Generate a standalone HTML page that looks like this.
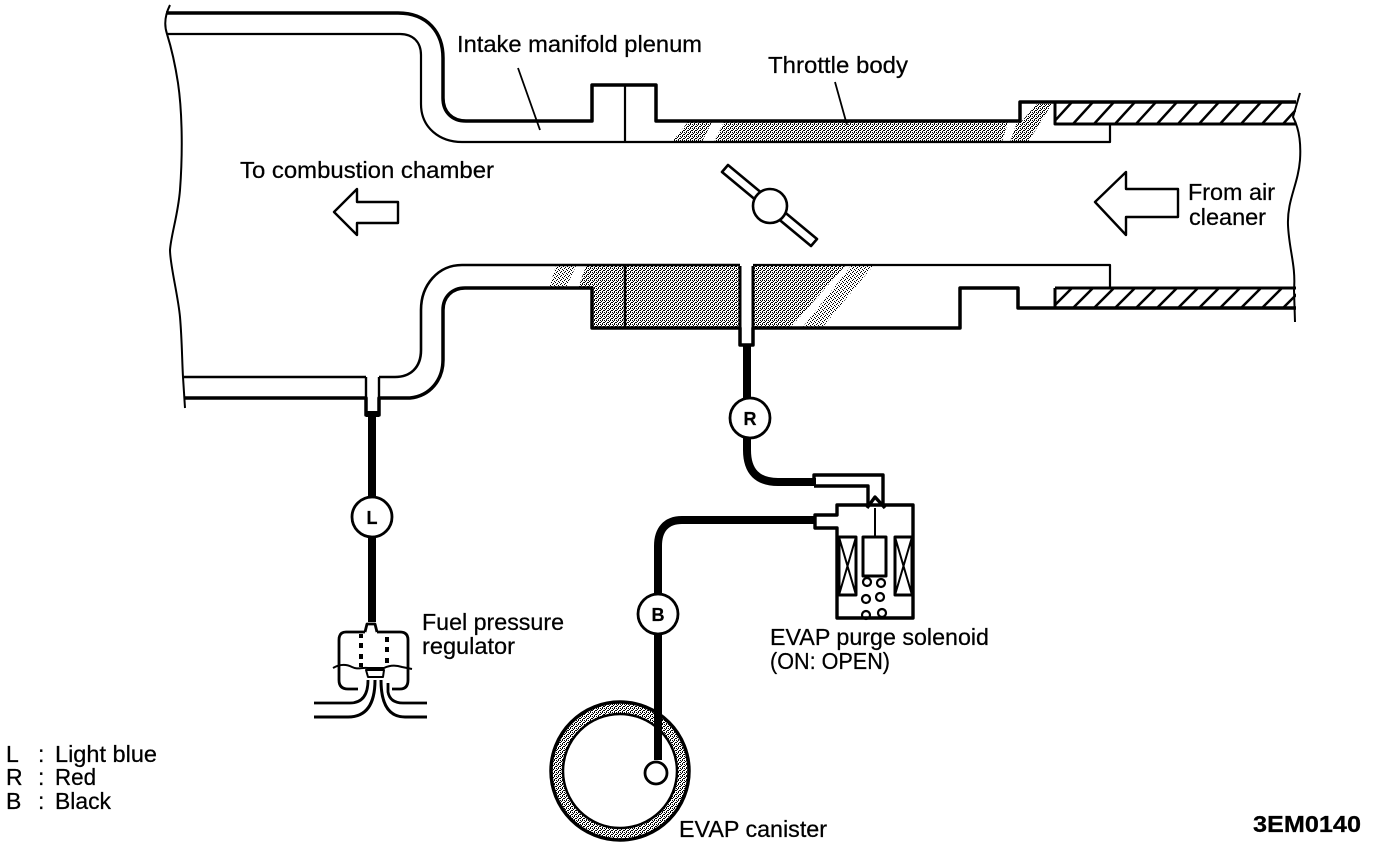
<!DOCTYPE html>
<html>
<head>
<meta charset="utf-8">
<style>
html,body{margin:0;padding:0;background:#fff;}
svg{display:block;}
text{font-family:"Liberation Sans",sans-serif;font-size:23px;fill:#000;stroke:#000;stroke-width:0.25px;}
</style>
</head>
<body>
<svg width="1376" height="846" viewBox="0 0 1376 846" xmlns="http://www.w3.org/2000/svg">
<defs>
<pattern id="st" width="4" height="4" patternUnits="userSpaceOnUse">
<rect width="4" height="4" fill="#fff"/>
<rect x="0" y="0" width="1" height="1" fill="#000"/><rect x="2" y="0" width="1" height="1" fill="#000"/>
<rect x="1" y="1" width="1" height="1" fill="#000"/>
<rect x="0" y="2" width="1" height="1" fill="#000"/><rect x="3" y="2" width="1" height="1" fill="#000"/>
<rect x="2" y="3" width="1" height="1" fill="#000"/>
</pattern>
<pattern id="st2" width="4" height="4" patternUnits="userSpaceOnUse">
<rect width="4" height="4" fill="#fff"/>
<rect x="0" y="0" width="1" height="1" fill="#000"/><rect x="2" y="1" width="1" height="1" fill="#000"/>
<rect x="3" y="2" width="1" height="1" fill="#000"/><rect x="1" y="3" width="1" height="1" fill="#000"/>
</pattern>
<clipPath id="h1"><rect x="1055" y="102" width="241" height="22"/></clipPath>
<clipPath id="h2"><rect x="1055" y="288" width="241" height="20"/></clipPath>
</defs>

<!-- stipple -->
<g stroke="none">
<polygon fill="url(#st)" points="672,142 702,142 712,122 688,122"/>
<polygon fill="url(#st)" points="714,142 1002,142 1008,122 724,122"/>
<polygon fill="url(#st)" points="1010,142 1028,142 1052,104 1037,104 1021,122 1017,122"/>
<polygon fill="url(#st2)" points="549,288 566,288 576,266 556,266"/>
<polygon fill="url(#st)" points="578,288 592,288 592,328 740,328 740,266 586,266"/>
<polygon fill="url(#st)" points="754,266 845,266 790,328 754,328"/>
<polygon fill="url(#st2)" points="851,266 873,266 822,328 802,328"/>
<circle cx="620" cy="771" r="62.5" fill="none" stroke="url(#st)" stroke-width="12"/>
</g>

<!-- hatches -->
<g stroke="#000" stroke-width="2.5" clip-path="url(#h1)">
<path d="M1052,124L1072,102M1073,124L1093,102M1094,124L1114,102M1115,124L1135,102M1136,124L1156,102M1157,124L1177,102M1178,124L1198,102M1199,124L1219,102M1220,124L1240,102M1241,124L1261,102M1262,124L1282,102M1283,124L1303,102"/>
</g>
<g stroke="#000" stroke-width="2.5" clip-path="url(#h2)">
<path d="M1052,308L1072,288M1073,308L1093,288M1094,308L1114,288M1115,308L1135,288M1136,308L1156,288M1157,308L1177,288M1178,308L1198,288M1199,308L1219,288M1220,308L1240,288M1241,308L1261,288M1262,308L1282,288M1283,308L1303,288"/>
</g>

<g fill="none" stroke="#000" stroke-linejoin="round" stroke-linecap="butt">
<!-- top wall -->
<path stroke-width="3.5" d="M166,13 L398,13 C428,13 443,33 443,58 L443,98 C443,112 452,121 466,121 L592,121 L592,85 L656,85 L656,121 L1020,121 L1020,102 L1296,102"/>
<path stroke-width="2.2" d="M167,34 L400,34 C413,34 421,42 421,55 L421,104 C421,128 440,142 462,142 L1110,142 L1110,124"/>
<path stroke-width="2.2" d="M625,85 L625,142"/>
<path stroke-width="3" d="M1055,102 L1055,124 L1296,124"/>

<!-- lower wall -->
<path stroke-width="2.6" d="M740,265 L462,265 C438,265 421,285 421,310 L421,350 C421,368 410,377 395,377 L379,377 M366,377 L184,377"/>
<path stroke-width="2.2" d="M753,265 L1110,265 L1110,288"/>
<path stroke-width="3.5" d="M184,398 L366,398 L366,415 L379,415 L379,398 L410,398 C430,396 443,380 443,360 L443,310 C443,297 452,288 465,288 L592,288 L592,328 L740,328 L740,345 L753,345 L753,328 L960,328 L960,288 L1018,288 L1018,308 L1296,308"/>
<path stroke-width="2.4" d="M366,377 L366,398 M379,377 L379,398"/>
<path stroke-width="3" d="M740,266 L740,328 M753,266 L753,328"/>
<path stroke-width="2.5" d="M625,266 L625,328"/>
<path stroke-width="3" d="M1055,288 L1055,308 M1055,288 L1296,288"/>

<!-- break lines -->
<path stroke-width="2" d="M170,5 C165,15 164,25 167,34 C172,50 176,70 178,83 C182,110 183,150 180,190 C178,215 171,235 170,250 C170,265 178,295 180,317 C182,340 182,360 183,377 L185,408"/>
<path stroke-width="2" d="M1300,93 L1293,117 C1300,130 1301,145 1300,160 C1298,185 1287,200 1288,225 C1289,250 1296,265 1294,290 L1295,322"/>

<!-- leaders -->
<path stroke-width="1.8" d="M518,68 L540,130"/>
<path stroke-width="1.8" d="M835,82 L847,125"/>

<!-- arrows -->
<path stroke-width="2.4" d="M334,212 L357,189 L357,202 L398,202 L398,223 L357,223 L357,235 Z"/>
<path stroke-width="2.4" d="M1095,202 L1126,172 L1126,189 L1178,189 L1178,217 L1126,217 L1126,235 Z"/>

<!-- throttle plate -->
<path stroke-width="2.6" fill="#fff" d="M722,172 L728,165 L817,239 L811,246 Z"/>
<circle cx="770" cy="206" r="17" stroke-width="2.6" fill="#fff"/>

<!-- canister -->
<circle cx="620" cy="771" r="69" stroke-width="3.5"/>
<circle cx="620" cy="771" r="57" stroke-width="2.5"/>

<!-- hoses -->
<path stroke-width="8" d="M372,415 L372,622"/>
<path stroke-width="8" d="M747,345 L747,450 C747,472 758,482 778,482 L816,482"/>
<path stroke-width="8" d="M816,520 L682,520 C666,520 658,530 658,546 L658,760"/>
</g>
<rect x="366" y="411" width="13" height="6" fill="#000"/>

<!-- tag circles -->
<g fill="#fff" stroke="#000" stroke-width="2.8">
<circle cx="372" cy="517" r="20"/>
<circle cx="750" cy="418" r="20"/>
<circle cx="658" cy="614" r="20"/>
<circle cx="656" cy="773" r="11"/>
</g>
<g text-anchor="middle" font-weight="bold">
<text x="372" y="524" style="font-size:18px">L</text>
<text x="750" y="425" style="font-size:18px">R</text>
<text x="658" y="621" style="font-size:18px">B</text>
</g>

<!-- solenoid -->
<g fill="none" stroke="#000" stroke-width="3.4" stroke-linejoin="round">
<path d="M814,486 L814,475 L883,475 L883,505 M814,486 L868,486 L868,505"/>
<path d="M867,508 L875,497 L885,508"/>
<path d="M815,515 L837,515 L837,505 L913,505 L913,618 L837,618 L837,528 L815,528 Z"/>
<path d="M875,508 L875,537" stroke-width="2"/>
<rect x="863" y="537" width="23" height="39" stroke-width="3"/>
<rect x="839" y="537" width="17" height="58" stroke-width="3"/>
<rect x="895" y="537" width="17" height="58" stroke-width="3"/>
<path d="M839,537 L856,595 M856,537 L839,595 M895,537 L912,595 M912,537 L895,595" stroke-width="2"/>
<circle cx="867" cy="582" r="4" stroke-width="2.2"/>
<circle cx="881" cy="583" r="4" stroke-width="2.2"/>
<circle cx="866" cy="599" r="4" stroke-width="2.2"/>
<circle cx="880" cy="597" r="4" stroke-width="2.2"/>
<circle cx="866" cy="615" r="4" stroke-width="2.2"/>
<circle cx="882" cy="613" r="4" stroke-width="2.2"/>
</g>

<!-- regulator -->
<g fill="none" stroke="#000" stroke-width="2.8" stroke-linejoin="round">
<path d="M365,632 L346,632 Q339,632 339,640 L339,680 Q339,689 348,689 L358,689"/>
<path d="M377,632 L400,632 Q408,632 408,640 L408,680 Q408,689 400,689 L392,689"/>
<path d="M365,632 L367,624 L375,624 L377,632"/>
<path stroke-width="2" d="M333,668 C340,664 346,664 352,667 C358,670 362,667 368,668 L384,668 C390,665 396,665 402,667 L412,669"/>
<path d="M366,670 L384,670 L383,677 L368,677 Z" stroke-width="2"/>
<path d="M314,703 L350,703 Q368,703 368,680"/>
<path d="M314,717 L348,717 Q375,717 375,680" stroke-width="3"/>
<path d="M381,680 Q381,717 405,717 L427,717" stroke-width="3"/>
<path d="M388,683 L388,692 Q390,703 403,703 L427,703"/>
</g>
<g fill="#000">
<rect x="359" y="634" width="4" height="4"/><rect x="359" y="643" width="4" height="5"/><rect x="359" y="654" width="4" height="5"/><rect x="359" y="663" width="4" height="4"/>
<rect x="385" y="637" width="4" height="5"/><rect x="385" y="647" width="4" height="5"/><rect x="385" y="658" width="4" height="5"/>
</g>

<!-- labels -->
<text x="457" y="52" textLength="245" lengthAdjust="spacingAndGlyphs">Intake manifold plenum</text>
<text x="768" y="73" textLength="140" lengthAdjust="spacingAndGlyphs">Throttle body</text>
<text x="240" y="178" textLength="254" lengthAdjust="spacingAndGlyphs">To combustion chamber</text>
<text x="1188" y="200" textLength="87" lengthAdjust="spacingAndGlyphs">From air</text>
<text x="1189" y="225" textLength="77" lengthAdjust="spacingAndGlyphs">cleaner</text>
<text x="422" y="630" textLength="142" lengthAdjust="spacingAndGlyphs">Fuel pressure</text>
<text x="422" y="654" textLength="93" lengthAdjust="spacingAndGlyphs">regulator</text>
<text x="770" y="645" textLength="219" lengthAdjust="spacingAndGlyphs">EVAP purge solenoid</text>
<text x="770" y="669" textLength="120" lengthAdjust="spacingAndGlyphs">(ON: OPEN)</text>
<text x="679" y="837" textLength="148" lengthAdjust="spacingAndGlyphs">EVAP canister</text>
<text x="6" y="762">L</text><text x="38" y="762">:</text><text x="55" y="762" textLength="102" lengthAdjust="spacingAndGlyphs">Light blue</text>
<text x="6" y="785">R</text><text x="38" y="785">:</text><text x="55" y="785" textLength="41" lengthAdjust="spacingAndGlyphs">Red</text>
<text x="6" y="809">B</text><text x="38" y="809">:</text><text x="55" y="809" textLength="56" lengthAdjust="spacingAndGlyphs">Black</text>
<text x="1253" y="832" textLength="108" lengthAdjust="spacingAndGlyphs" font-weight="bold">3EM0140</text>
</svg>
</body>
</html>
